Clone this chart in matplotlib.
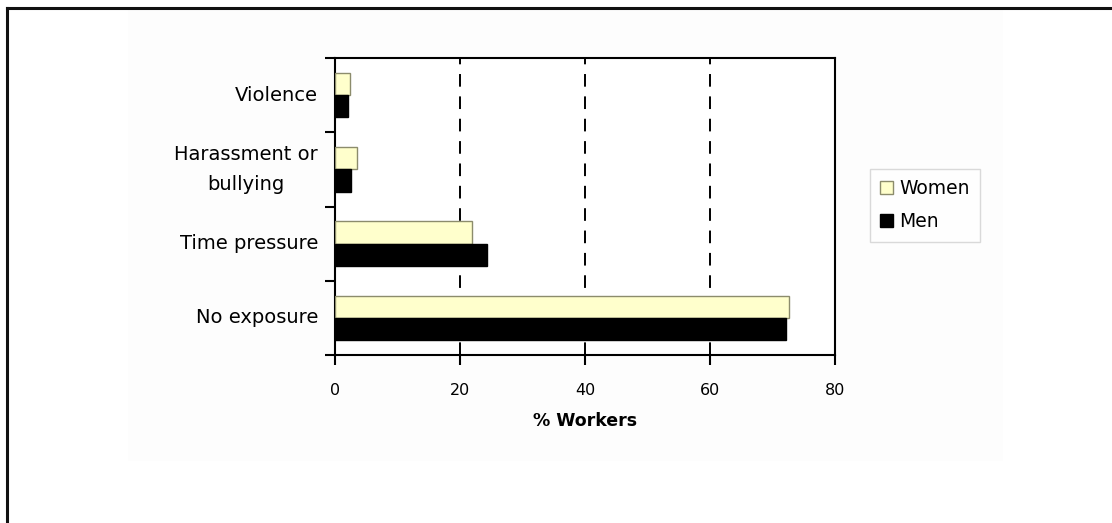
import matplotlib
matplotlib.use("Agg")
import matplotlib.pyplot as plt
import numpy as np
from matplotlib.patches import Rectangle
from matplotlib.lines import Line2D
from matplotlib.transforms import blended_transform_factory

# data (bottom to top, as drawn)
categories = ["No exposure", "Time pressure", "Harassment or\nbullying", "Violence"]
women = [72.6, 21.9, 3.5, 2.4]
men = [72.1, 24.3, 2.6, 2.1]
xticks = [0, 20, 40, 60, 80]

plt.rcParams['font.family'] = ['DejaVu Sans']

fig = plt.figure(figsize=(11.12, 5.23), dpi=100)

# faint chart area and page border
fig.patches.append(Rectangle((128 / 1112, 1 - 461 / 523), 875 / 1112, 451 / 523,
                             transform=fig.transFigure, facecolor='#fdfdfd',
                             edgecolor='none', zorder=-10))
fig.lines.append(Line2D([6.5 / 1112, 6.5 / 1112], [0, 1 - 7.5 / 523],
                        transform=fig.transFigure, color='#111111', lw=2.2))
fig.lines.append(Line2D([6.5 / 1112, 1], [1 - 7.5 / 523, 1 - 7.5 / 523],
                        transform=fig.transFigure, color='#111111', lw=2.2))

ax = fig.add_axes([335 / 1112, 1 - 355 / 523, 500 / 1112, 297 / 523])
ax.set_facecolor('white')

y = np.arange(len(categories))
h = 0.3
ax.barh(y + h / 2, women, height=h, color='#ffffcc', edgecolor='#8c8c6c',
        linewidth=1.0, label='Women', zorder=3)
ax.barh(y - h / 2, men, height=h, color='black', edgecolor='black',
        linewidth=1.0, label='Men', zorder=3)

ax.set_xlim(0, 80)
ax.set_ylim(-0.5, len(categories) - 0.5)

ax.set_xticks(xticks)
ax.set_xticklabels([str(v) for v in xticks], fontsize=11.5)
ax.tick_params(axis='x', direction='out', length=7, width=1.5, pad=13)

# ticks between categories, labels at the category centres
ax.set_yticks(np.arange(-0.5, len(categories), 1.0))
ax.set_yticklabels([])
ax.tick_params(axis='y', which='major', direction='out', length=7, width=1.5)
trans = blended_transform_factory(ax.transAxes, ax.transData)
for yi, name in zip(y, categories):
    ax.text(-17 / 500, yi, name, transform=trans, ha='right', va='center',
            fontsize=14, linespacing=1.75, multialignment='center')

for v in xticks[1:-1]:
    ax.axvline(v, color='black', lw=1.4, linestyle=(0, (6.5, 5)), zorder=1)

for s in ax.spines.values():
    s.set_linewidth(1.5)
    s.set_color('black')

ax.set_xlabel('% Workers', fontsize=12.5, fontweight='bold', labelpad=10)

handles, labels = ax.get_legend_handles_labels()
leg = ax.legend(handles, labels, loc='upper left', bbox_to_anchor=(1.07, 0.626),
                borderaxespad=0, fontsize=13.5, frameon=True, fancybox=False,
                edgecolor='#d0d0d0', handlelength=0.7, handleheight=0.7,
                handletextpad=0.3, labelspacing=0.75, borderpad=0.55)
leg.get_frame().set_linewidth(1.0)

fig.savefig('out.png', dpi=100)
